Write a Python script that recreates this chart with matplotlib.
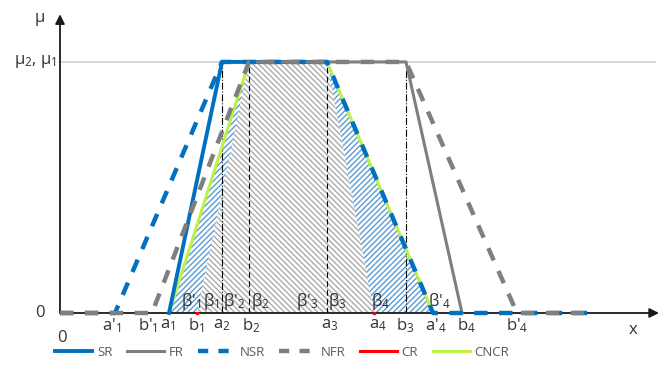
import matplotlib
matplotlib.use("Agg")
import matplotlib.pyplot as plt
from matplotlib.patches import Polygon
from matplotlib.lines import Line2D

plt.rcParams['font.family'] = ['Open Sans', 'DejaVu Sans']
plt.rcParams['mathtext.fontset'] = 'custom'
plt.rcParams['mathtext.rm'] = 'Open Sans'
plt.rcParams['mathtext.it'] = 'Open Sans:italic'
plt.rcParams['hatch.linewidth'] = 1.0

# x positions of the trapezoid corners (arbitrary units)
a1p, b1p = 5.5, 9.2          # a'1, b'1
a1, b1, a2, b2 = 10.9, 13.7, 16.2, 18.9
a3, a4, b3 = 26.7, 31.4, 34.6
a4p, b4, b4p = 37.3, 40.2, 45.7   # a'4, b4, b'4
x_tail = 53.3
mu = 1.0

# series (x, y)
sr_x, sr_y = [a1, a2, a3], [0, mu, mu]
fr_x, fr_y = [b2, b3, b4], [mu, mu, 0]
nsr_x, nsr_y = [0, a1p, a2, a3, a4p, x_tail], [0, 0, mu, mu, 0, 0]
nfr_x, nfr_y = [0, b1p, b2, b3, b4p, x_tail], [0, 0, mu, mu, 0, 0]
cr_x, cr_y = [b1, b2, a3, a4], [0, mu, mu, 0]
cncr_x, cncr_y = [a1, b2, a3, a4p], [0, mu, mu, 0]

x_labels = ["a'$_1$", "b'$_1$", "a$_1$", "b$_1$", "a$_2$", "b$_2$",
            "a$_3$", "a$_4$", "b$_3$", "a'$_4$", "b$_4$", "b'$_4$"]
x_label_pos = [5.2, 8.8, 10.8, 13.6, 16.2, 19.1, 27.0, 31.8, 34.5, 37.6, 40.6, 45.7]
beta_labels = ["β'$_1$", "β$_1$", "β'$_2$", "β$_2$", "β'$_3$", "β$_3$", "β$_4$", "β'$_4$"]
beta_pos = [13.1, 15.1, 17.4, 20.0, 24.7, 27.7, 32.1, 37.9]

BLUE = '#0070C0'
GRAY = '#7F7F7F'
RED = '#FF0000'
GREEN = '#BEF04A'
TXT = '#333333'
FS = 12

fig = plt.figure(figsize=(6.64, 3.86), dpi=100)
ax = fig.add_axes([60 / 664, 73 / 386, 600 / 664, 298 / 386])
ax.set_xlim(0, 60)
ax.set_ylim(0, 1.187)
ax.axis('off')

# hatched areas: CR (gray) and CNCR minus CR (blue)
ax.add_patch(Polygon(list(zip(cr_x, cr_y)), closed=True, facecolor='none',
                     edgecolor='#ABABAB', hatch='\\' * 6, lw=0, zorder=1))
ax.add_patch(Polygon([(a1, 0), (b2, mu), (b1, 0)], closed=True, facecolor='none',
                     edgecolor='#5B9BD5', hatch='/' * 6, lw=0, zorder=1))
ax.add_patch(Polygon([(a3, mu), (a4p, 0), (a4, 0)], closed=True, facecolor='none',
                     edgecolor='#5B9BD5', hatch='/' * 6, lw=0, zorder=1))

# mu level line
ax.plot([0, 59.5], [mu, mu], color='#D9D9D9', lw=1.5, zorder=1, clip_on=False)

# guide lines
ax.plot([a2, a2], [0, mu], color='k', lw=0.8, ls='-.', zorder=2)
ax.plot([b3, b3], [0, mu], color='k', lw=0.8, ls='-.', zorder=2)
ax.plot([b2, b2], [0, mu], color='k', lw=0.8, ls=(0, (5, 3)), zorder=2)
ax.plot([a3, a3], [0, mu], color='k', lw=0.8, ls=(0, (5, 3)), zorder=2)

# axes arrows
ax.annotate('', xy=(59.9, 0), xytext=(0, 0), annotation_clip=False,
            arrowprops=dict(arrowstyle='-|>', color='#1a1a1a', lw=1.3,
                            mutation_scale=14, shrinkA=0, shrinkB=0), zorder=3)
ax.annotate('', xy=(0, 1.19), xytext=(0, 0), annotation_clip=False,
            arrowprops=dict(arrowstyle='-|>', color='#1a1a1a', lw=1.3,
                            mutation_scale=14, shrinkA=0, shrinkB=0), zorder=3)

ax.plot(cncr_x, cncr_y, color=GREEN, lw=2.2, zorder=4, clip_on=False)
ax.plot(sr_x, sr_y, color=BLUE, lw=2.8, zorder=5, clip_on=False)
ax.plot(fr_x, fr_y, color=GRAY, lw=2.2, zorder=5, clip_on=False)
ax.plot(nsr_x, nsr_y, color=BLUE, lw=3.2, dashes=(3.0, 2.6), zorder=6, clip_on=False)
ax.plot(nfr_x, nfr_y, color=GRAY, lw=3.2, dashes=(3.0, 2.6), zorder=6, clip_on=False)
ax.plot([cr_x[0], cr_x[-1]], [cr_y[0], cr_y[-1]], ls='none', marker='s', ms=2,
        color=RED, zorder=7, clip_on=False)

# labels
for lab, xp in zip(x_labels, x_label_pos):
    ax.text(xp, -0.015, lab, ha='center', va='top', fontsize=FS, color=TXT)
for lab, xp in zip(beta_labels, beta_pos):
    ax.text(xp, 0.004, lab, ha='center', va='bottom', fontsize=FS, color=TXT)

ax.text(-2.0, 1.175, 'μ', ha='center', va='center', fontsize=FS, color=TXT)
ax.text(-0.3, mu, 'μ$_2$, μ$_1$', ha='right', va='center', fontsize=FS, color=TXT)
ax.text(-2.0, 0, '0', ha='center', va='center', fontsize=FS, color=TXT)
ax.text(0.2, -0.1, '0', ha='center', va='center', fontsize=FS, color=TXT)
ax.text(57.3, -0.068, 'x', ha='center', va='center', fontsize=FS, color=TXT)

handles = [
    Line2D([], [], color=BLUE, lw=2.8),
    Line2D([], [], color=GRAY, lw=2.2),
    Line2D([], [], color=BLUE, lw=3.2, dashes=(2.3, 2.3)),
    Line2D([], [], color=GRAY, lw=3.2, dashes=(2.3, 2.3)),
    Line2D([], [], color=RED, lw=2.2),
    Line2D([], [], color=GREEN, lw=2.2),
]
fig.legend(handles, ['SR', 'FR', 'NSR', 'NFR', 'CR', 'CNCR'], loc='center',
           bbox_to_anchor=(0.425, 0.088), ncol=6, frameon=False, fontsize=9.5,
           handlelength=2.8, handletextpad=0.35, columnspacing=1.1,
           labelcolor='#595959')

fig.savefig('out.png', dpi=100)
